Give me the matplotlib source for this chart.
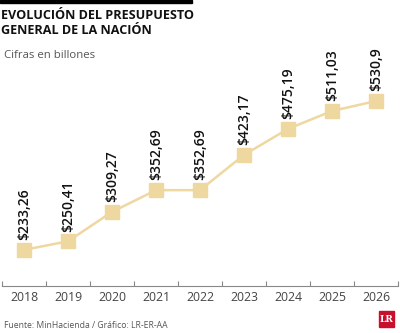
import matplotlib.pyplot as plt
from matplotlib.patches import Rectangle

plt.rcParams['font.family'] = ['Open Sans', 'DejaVu Sans']

# Data
years = ['2018', '2019', '2020', '2021', '2022', '2023', '2024', '2025', '2026']
values = [233.26, 250.41, 309.27, 352.69, 352.69, 423.17, 475.19, 511.03, 530.9]
labels = ['$233,26', '$250,41', '$309,27', '$352,69', '$352,69',
          '$423,17', '$475,19', '$511,03', '$530,9']

tan = '#EFD8A0'
W, H = 400, 333

fig = plt.figure(figsize=(4, 3.33), dpi=100)
ax = fig.add_axes([2 / W, (H - 286) / H, 396 / W, 246 / H])

x = range(len(years))
ax.plot(x, values, color=tan, lw=1.8, zorder=2)
ax.plot(x, values, ls='none', marker='s', ms=10, color=tan, zorder=3)

for xi, v, lab in zip(x, values, labels):
    ax.annotate(lab, (xi, v), xytext=(0, 7), textcoords='offset points',
                rotation=90, ha='center', va='bottom', fontsize=10,
                fontweight='semibold', color='#111111')

ax.set_xlim(-0.5, len(years) - 0.5)
ax.set_ylim(161, 653)
ax.set_yticks([])
ax.set_xticks(x)
ax.set_xticklabels(years, fontsize=8.8, color='#444444')
ax.set_xticks([i - 0.5 for i in range(len(years) + 1)], minor=True)
ax.tick_params(axis='x', which='major', length=0, pad=3.5)
ax.tick_params(axis='x', which='minor', direction='in', length=3.5,
               color='#888888', width=0.8)
for s in ['top', 'left', 'right']:
    ax.spines[s].set_visible(False)
ax.spines['bottom'].set_color('#888888')
ax.spines['bottom'].set_linewidth(0.8)

# top bar
fig.patches.append(Rectangle((0, 1 - 3 / H), 192 / W, 3 / H, transform=fig.transFigure,
                             color='black', zorder=5))
fig.text(1 / W, 1 - 15.5 / H, 'EVOLUCIÓN DEL PRESUPUESTO', ha='left', va='center',
         fontsize=9.1, fontweight='bold', color='#111111')
fig.text(1 / W, 1 - 30.5 / H, 'GENERAL DE LA NACIÓN', ha='left', va='center',
         fontsize=9.1, fontweight='bold', color='#111111')
fig.text(4 / W, 1 - 55 / H, 'Cifras en billones', ha='left', va='center',
         fontsize=8.2, color='#555555')
fig.text(4 / W, 1 - 326 / H, 'Fuente: MinHacienda / Gráfico: LR-ER-AA', ha='left',
         va='center', fontsize=6.2, color='#555555')

# logo
fig.patches.append(Rectangle((379 / W, 1 - 327 / H), 15 / W, 16 / H,
                             transform=fig.transFigure, color='#C8102E', zorder=5))
fig.text(386.5 / W, 1 - 319 / H, 'LR', ha='center', va='center', fontsize=6.5,
         fontweight='bold', color='white', family='DejaVu Serif', zorder=6)

fig.savefig('out.png', dpi=100)
